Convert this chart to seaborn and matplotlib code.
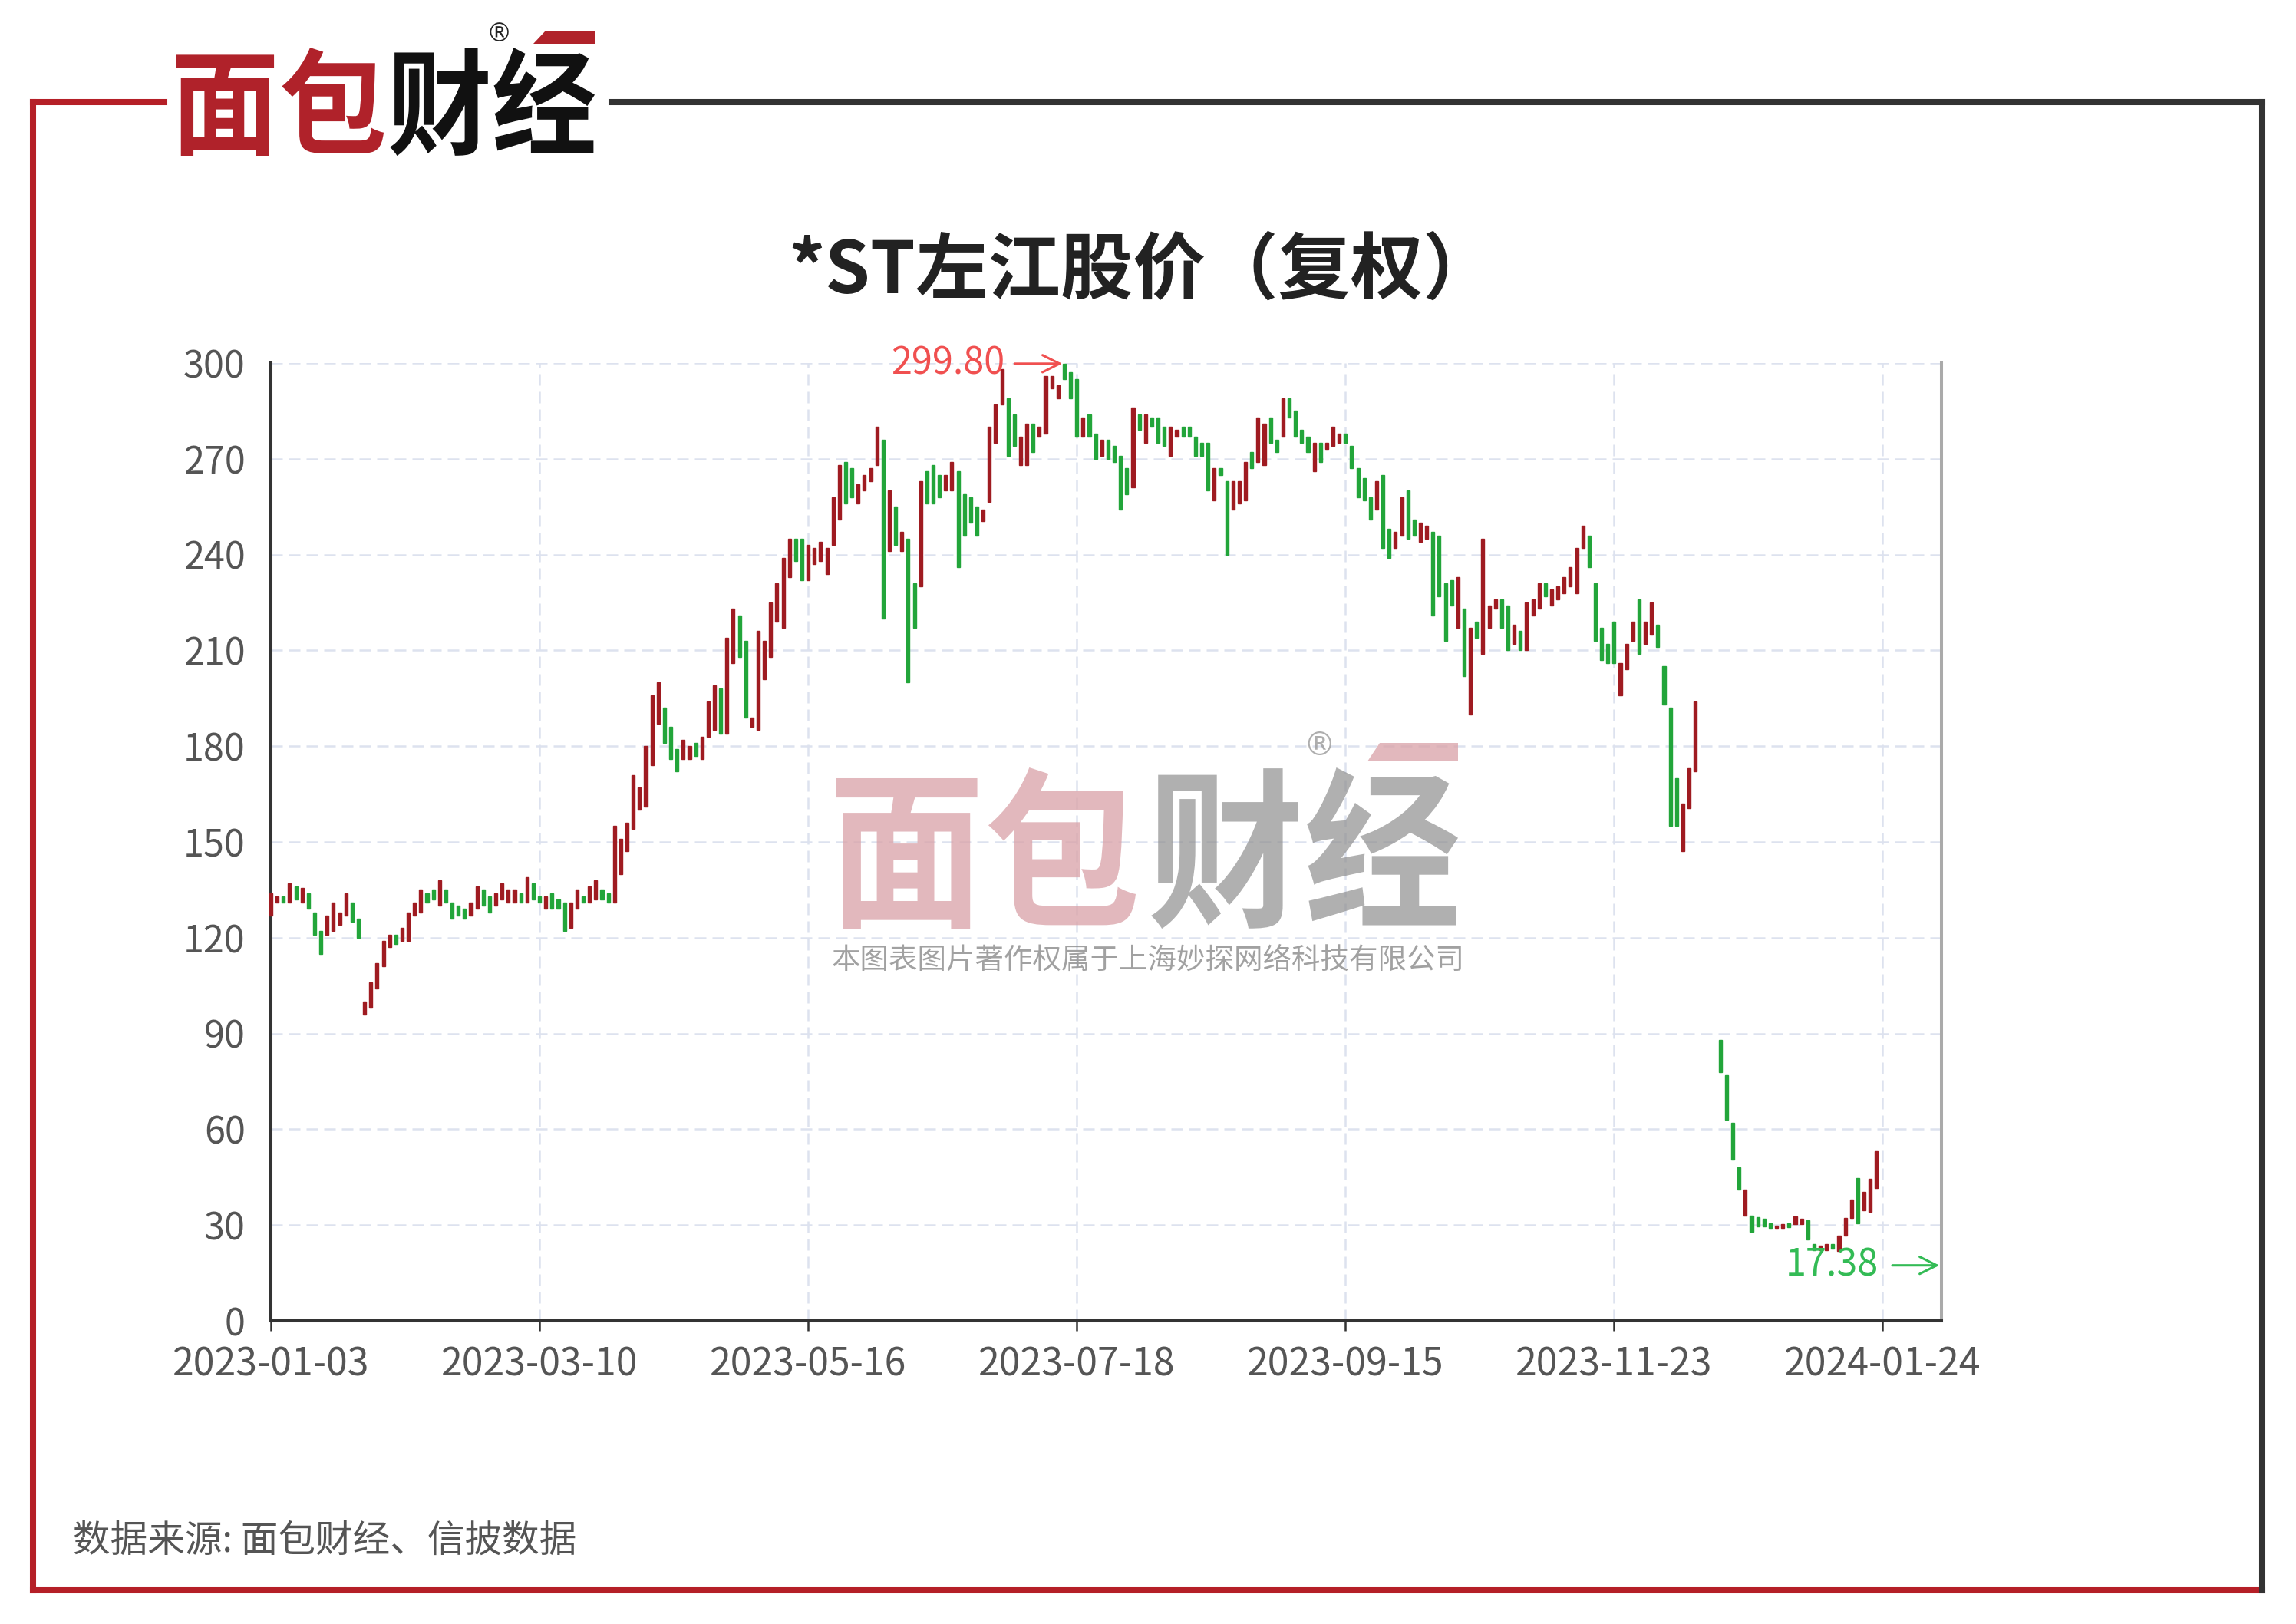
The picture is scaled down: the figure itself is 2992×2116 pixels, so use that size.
import numpy as np
import pandas as pd
import matplotlib
matplotlib.use("Agg")
import matplotlib.pyplot as plt
import seaborn as sns
from matplotlib.lines import Line2D
from matplotlib.patches import PathPatch, Polygon
from matplotlib.textpath import TextPath
from matplotlib.font_manager import FontProperties
from matplotlib.transforms import Affine2D

# ---- data ----
opens = [127, 131, 133, 131, 136, 131, 134, 128, 122, 121, 122, 124, 127, 131, 126,
         96, 98, 104, 111, 117, 121, 119, 119, 127, 128, 134, 135, 130, 135, 131,
         130, 129, 127, 129, 135, 133, 130, 132, 131, 131, 134, 131, 137, 133,
         129, 134, 132, 131, 123, 129, 133, 131, 132, 135, 134, 131, 140, 147, 154,
         160, 161, 174, 187, 192, 186, 179, 176, 176, 181, 176, 183, 185, 198, 184,
         206, 221, 213, 186, 185, 201, 208, 219, 217, 233, 245, 245, 232, 237, 238,
         234, 243, 251, 269, 267, 256, 260, 263, 268, 276, 241, 255, 241, 245, 231,
         230, 266, 268, 265, 260, 260, 266, 259, 258, 255, 250.5, 256.5, 275, 287,
         289, 284, 268, 268, 281, 277, 278, 292, 289, 299.8, 297, 295, 277, 284,
         278, 271, 276, 274, 271, 267, 261, 284, 275, 283, 283, 280, 271, 277, 280,
         280, 277, 275, 275, 257, 267, 263, 254, 256, 257, 272, 269, 268, 283, 276,
         277, 289, 285, 279, 277, 266, 275, 273, 274, 275, 278, 274, 267, 264, 258,
         254, 265, 248, 242, 246, 260, 251, 244, 245, 247, 246, 231, 232, 217, 223,
         190, 219, 209, 217, 223, 226, 224, 212, 216, 210, 221, 223, 231, 224, 226,
         228, 230, 228, 242, 246, 231, 217, 212, 219, 196, 204, 213, 226, 212, 215,
         218, 205, 192, 170, 147, 160.5, 172, np.nan, np.nan, np.nan,
         88, 77, 62, 48, 33, 33, 32.5, 32, 30.5, 29, 29, 30.5, 30.2, 30.2, 31.5,
         24, 22, 22, 24, 21.8, 26.6, 32.3, 44.8, 34.7, 34.2, 41.6]
closes = [134, 133, 131, 137, 132, 135.5, 129, 121, 115, 127, 131, 128, 134, 125, 120,
          100, 106, 112, 119, 121, 118, 123, 128, 131, 135, 131, 132, 138, 131, 126,
          127, 126, 131, 136, 130, 128, 134, 137, 135, 135, 131, 139, 132, 131,
          133, 129, 129, 122, 131, 135, 131, 136, 138, 132, 131, 155, 151, 156, 171,
          167, 180, 196, 200, 181, 176, 172, 182, 180, 177, 183, 194, 199, 184, 214,
          223, 208, 189, 189, 216, 213, 225, 231, 239, 245, 238, 232, 243, 242, 244,
          242, 258, 268, 256, 258, 262, 265, 267, 280, 220, 260, 243, 247, 200, 217,
          263, 256, 256, 258, 265, 269, 236, 246, 250, 246, 254, 280, 287, 298,
          271, 274, 277, 281, 272, 280, 296, 296, 293, 295, 289, 277, 283, 277,
          270, 276, 270, 269, 254, 259, 286, 279, 284, 280, 275, 274, 280, 279, 277,
          277, 271, 271, 260, 267, 265, 240, 263, 263, 269, 267, 283, 281, 275, 272,
          289, 283, 277, 275, 272, 275, 269, 275, 280, 278, 275, 267, 258, 257, 251,
          263, 242, 239, 247, 258, 245, 246, 250, 249, 221, 227, 213, 224, 233, 202,
          217, 214, 245, 224, 226, 217, 210, 218, 210, 225, 226, 231, 227, 229, 230,
          233, 236, 242, 249, 236, 213, 207, 206, 206, 206, 212, 219, 209, 219, 225,
          211, 193, 155, 155, 162, 173, 194, np.nan, np.nan, np.nan,
          78, 63, 50.5, 41, 41, 28, 29.5, 29.5, 29, 29.7, 30.2, 29.4, 32.6, 32, 25.4,
          22, 23.5, 24, 22.5, 26.6, 32.3, 37.9, 30.6, 40.3, 44.4, 53.2]

xtick_labels = ["2023-01-03", "2023-03-10", "2023-05-16", "2023-07-18",
                "2023-09-15", "2023-11-23", "2024-01-24"]
xtick_pos = [0, 43, 86, 129, 172, 215, 258]
n_categories = 267.4

peak_value, peak_idx = 299.80, 127
low_value = 17.38

title = "*ST左江股价（复权）"
source = "数据来源: 面包财经、信披数据"
watermark_note = "本图表图片著作权属于上海妙探网络科技有限公司"

RED = "#9f1b21"
GREEN = "#22a53a"
FRAME_RED = "#b51f27"
FRAME_DARK = "#333333"

# ---- figure ----
sns.set_theme(style="white")
plt.rcParams['font.family'] = ['Noto Sans CJK SC', 'DejaVu Sans']

W, H = 2992, 2116
fig = plt.figure(figsize=(W / 100, H / 100), dpi=100)
fig.patch.set_facecolor("white")
# reference pixel coords (origin top-left) -> figure
T = Affine2D().scale(1, -1).translate(0, H).scale(1 / W, 1 / H) + fig.transFigure

ax = fig.add_axes([353 / W, 1 - 1721 / H, (2530 - 353) / W, (1721 - 473) / H])

df = pd.DataFrame({"open": opens, "close": closes})
df["idx"] = np.arange(len(df))
df["up"] = df["close"] >= df["open"]
df["bottom"] = df[["open", "close"]].min(axis=1)
df["height"] = (df["close"] - df["open"]).abs()
cols = [RED if u else GREEN for u in df["up"]]

bars = ax.bar(df["idx"], df["height"], bottom=df["bottom"], width=0.5,
              color=cols, edgecolor=cols, linewidth=1.0, zorder=3)
for b in bars:
    b.set_clip_on(False)

ax.set_xlim(0, n_categories)
ax.set_ylim(0, 300)
ax.set_yticks(np.arange(0, 301, 30))
ax.set_xticks(xtick_pos, xtick_labels)

ax.grid(True, color="#dde2ef", linestyle=(0, (6, 3.2)), linewidth=1.8, zorder=0)
ax.set_axisbelow(True)
ax.tick_params(axis="x", length=9, width=1.8, color="#333333", pad=14,
               labelsize=36, labelcolor="#555555", bottom=True)
ax.tick_params(axis="y", length=0, pad=24, labelsize=35, labelcolor="#555555")

for s in ["left", "bottom"]:
    ax.spines[s].set_color("#333333")
    ax.spines[s].set_linewidth(2.9)
ax.spines["right"].set_color("#aaaaaa")
ax.spines["right"].set_linewidth(2.9)
ax.spines["top"].set_visible(False)

# extreme annotations
ax.text(peak_idx - 9.5, peak_value, f"{peak_value:.2f}", ha="right", va="center",
        fontsize=35, color="#f05050", zorder=6)
ax.annotate("", xy=(peak_idx, peak_value), xytext=(peak_idx - 8.3, peak_value),
            arrowprops=dict(arrowstyle="->", color="#f05050", lw=2.2, mutation_scale=40),
            annotation_clip=False)
ax.text(257.3, low_value, f"{low_value:.2f}", ha="right", va="center",
        fontsize=35, color="#33bb55", zorder=6)
ax.annotate("", xy=(n_categories, low_value), xytext=(259.2, low_value),
            arrowprops=dict(arrowstyle="->", color="#33bb55", lw=2.2, mutation_scale=40),
            annotation_clip=False)

# ---- frame ----
def frame_line(xs, ys, color):
    fig.add_artist(Line2D(xs, ys, transform=T, color=color, lw=5.8,
                          solid_capstyle="projecting", zorder=2))

frame_line([43, 214], [133, 133], FRAME_RED)
frame_line([43, 43], [133, 2072], FRAME_RED)
frame_line([43, 2948], [2072, 2072], FRAME_RED)
frame_line([797, 2948], [133, 133], FRAME_DARK)
frame_line([2948, 2948], [133, 2072], FRAME_DARK)

# ---- logos ----
logo_font = FontProperties(family="Noto Sans CJK SC", weight="bold")


def fit_text(s, box, color, alpha=1.0, zorder=10):
    x0, y0, x1, y1 = box
    tp = TextPath((0, 0), s, size=100, prop=logo_font)
    bb = tp.get_extents()
    tr = (Affine2D().translate(-bb.x0, -bb.y0)
          .scale((x1 - x0) / bb.width, -(y1 - y0) / bb.height)
          .translate(x0, y1))
    fig.add_artist(PathPatch(tr.transform_path(tp), facecolor=color, edgecolor="none",
                             alpha=alpha, transform=T, zorder=zorder))


# header logo
fit_text("面包", (230, 62, 500, 203), "#b0222a")
fit_text("财经", (508, 62, 775, 203), "#111111")
fig.add_artist(Polygon([(695, 57), (711, 40), (775, 40), (775, 57)], closed=True,
                       facecolor="#b0222a", edgecolor="none", transform=T, zorder=10))
fig.text(650, 44, "®", transform=T, ha="center", va="center", fontsize=24,
         color="#222222", family="DejaVu Sans")

# watermark
fit_text("面包", (1090, 1000, 1480, 1210), "#d9a1a7", alpha=0.75, zorder=8)
fit_text("财经", (1500, 1000, 1900, 1210), "#8f8f8f", alpha=0.7, zorder=8)
fig.add_artist(Polygon([(1782, 992), (1798, 968), (1900, 968), (1900, 992)], closed=True,
                       facecolor="#d9a1a7", edgecolor="none", alpha=0.75, transform=T, zorder=8))
fig.text(1719, 972, "®", transform=T, ha="center", va="center", fontsize=30,
         color="#9a9a9a", alpha=0.8, family="DejaVu Sans", zorder=8)
fig.text(1496, 1251, watermark_note, transform=T, ha="center", va="center",
         fontsize=27, color="#8a8a8a", alpha=0.8, zorder=8)

# ---- texts ----
fig.text(1488, 354, title, transform=T, ha="center", va="center",
         fontsize=68, weight="bold", color="#222222")
fig.text(95, 2008, source, transform=T, ha="left", va="center",
         fontsize=35, color="#555555")

fig.savefig("out.png", dpi=100, facecolor="white")
